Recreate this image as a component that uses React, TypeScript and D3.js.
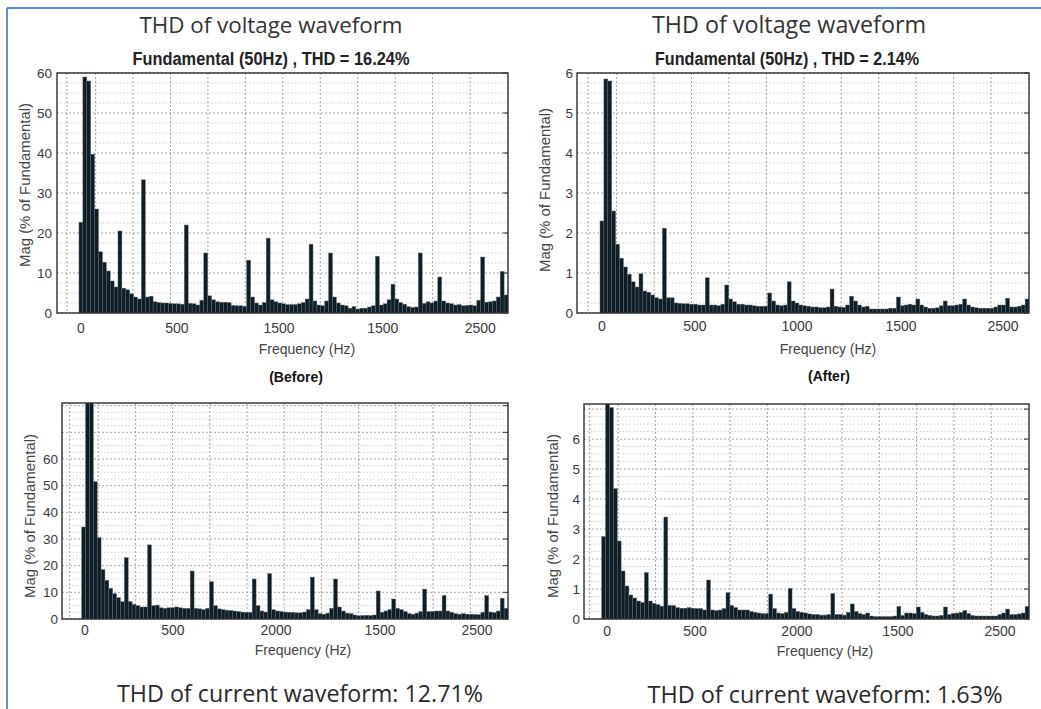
import React from 'react';
import * as d3 from 'd3';

// Frequency bin width (Hz) of the harmonic spectra
const binHz = 25;

// Voltage spectrum before compensation (% of fundamental), one value per 25 Hz bin
const voltageBefore = [
  22.7, 59, 58, 39.7, 26, 15.3, 12.7, 10.5, 8, 6.5,
  20.5, 6.2, 5.8, 4.8, 4, 3.5, 33.3, 4, 4.2, 2.8,
  2.6, 2.5, 2.5, 2.4, 2.3, 2.3, 2.2, 22, 2.4, 2.3,
  2, 3.2, 15, 4.3, 3.3, 2.8, 2.7, 2.7, 2.6, 1.9,
  1.8, 1.8, 1.7, 13.2, 4, 2.5, 2, 2.6, 18.7, 3.3,
  2.8, 2.5, 2.3, 2.1, 2.1, 2.1, 2.3, 2.6, 3.5, 17.2,
  3, 2, 1.8, 3, 15, 4, 2.5, 2, 1.8, 1.2,
  1.6, 1, 1.2, 1.2, 1.5, 1.8, 14.2, 2, 2.3, 3.3,
  7.2, 3.5, 2.6, 2.2, 1.6, 1.4, 1.5, 15, 2.4, 2.8,
  2.5, 3, 9, 3, 2.5, 2.3, 2, 2.1, 1.8, 1.9,
  2, 1.8, 3.2, 14, 2.7, 2.8, 3, 4, 10.4, 4.5,
];

// Voltage spectrum after compensation
const voltageAfter = [
  2.3, 5.85, 5.8, 2.55, 1.72, 1.37, 1.15, 0.97, 0.78, 0.65,
  0.98, 0.55, 0.52, 0.45, 0.38, 0.35, 2.12, 0.38, 0.38, 0.25,
  0.24, 0.23, 0.23, 0.22, 0.22, 0.2, 0.2, 0.88, 0.2, 0.2,
  0.18, 0.22, 0.7, 0.35, 0.28, 0.22, 0.22, 0.2, 0.2, 0.18,
  0.17, 0.17, 0.17, 0.5, 0.3, 0.2, 0.18, 0.2, 0.78, 0.3,
  0.25, 0.2, 0.18, 0.17, 0.15, 0.15, 0.13, 0.13, 0.15, 0.6,
  0.17, 0.15, 0.14, 0.2, 0.42, 0.3, 0.2, 0.15, 0.17, 0.1,
  0.1, 0.1, 0.1, 0.1, 0.12, 0.12, 0.4, 0.18, 0.2, 0.22,
  0.2, 0.35, 0.2, 0.15, 0.12, 0.12, 0.13, 0.18, 0.3, 0.18,
  0.18, 0.2, 0.22, 0.35, 0.2, 0.15, 0.13, 0.12, 0.12, 0.12,
  0.12, 0.15, 0.2, 0.2, 0.37, 0.15, 0.15, 0.17, 0.2, 0.35,
];

// Current spectrum before compensation
const currentBefore = [
  34.5, 85, 84, 51.5, 30.5, 18.5, 14.5, 11.5, 9.5, 8,
  6.5, 23, 6.5, 5.5, 5, 4.5, 4.5, 27.8, 5, 5.2,
  4.2, 4, 4.2, 4.2, 4.5, 4.2, 4, 4, 18, 4,
  3.8, 3.5, 4, 14, 5, 3.8, 3.5, 3.3, 3.2, 3,
  2.8, 2.6, 2.5, 2.5, 15, 5, 3, 2.6, 17, 3.5,
  3, 2.8, 2.6, 2.5, 2.5, 2.3, 2.3, 2.6, 3.5, 15.7,
  3.5, 2, 1.8, 2.2, 4, 15, 4.5, 3, 2.2, 2,
  1.5, 1.2, 1.3, 1.4, 1.3, 1.5, 10.5, 2.5, 3, 3.5,
  7.5, 4, 3.5, 2.8, 2, 1.8, 2.2, 2.8, 11.2, 2.8,
  2.8, 3, 3, 8.8, 3, 2.5, 2, 1.8, 2, 1.8,
  1.8, 1.7, 1.6, 2.5, 8.8, 2.6, 2.4, 3, 7.8, 4,
];

// Current spectrum after compensation
const currentAfter = [
  2.75, 7.5, 7.05, 4.35, 2.6, 1.6, 1.1, 0.8, 0.7, 0.6,
  0.55, 1.55, 0.6, 0.52, 0.48, 0.43, 3.4, 0.45, 0.45, 0.38,
  0.36, 0.36, 0.38, 0.36, 0.35, 0.35, 0.3, 1.3, 0.3, 0.28,
  0.3, 0.35, 0.88, 0.45, 0.38, 0.3, 0.3, 0.3, 0.25, 0.22,
  0.2, 0.18, 0.18, 0.83, 0.35, 0.2, 0.18, 0.22, 1.02, 0.35,
  0.25, 0.22, 0.2, 0.17, 0.15, 0.15, 0.13, 0.13, 0.15, 0.85,
  0.15, 0.15, 0.13, 0.22, 0.5, 0.25, 0.18, 0.15, 0.2, 0.1,
  0.08, 0.08, 0.08, 0.08, 0.08, 0.1, 0.42, 0.12, 0.2, 0.2,
  0.18, 0.4, 0.22, 0.15, 0.12, 0.1, 0.1, 0.12, 0.4, 0.15,
  0.18, 0.2, 0.22, 0.28, 0.18, 0.12, 0.1, 0.1, 0.1, 0.1,
  0.1, 0.1, 0.15, 0.2, 0.33, 0.15, 0.15, 0.17, 0.2, 0.42,
];

// Axis ticks (positions in Hz) and their printed labels
const xTicksVB = [0, 615, 1270, 1935, 2560];
const xLabelsVB = ['0', '500', '1500', '1500', '2500'];
const xTicksVA = [0, 596, 1250, 1917, 2571];
const xLabelsVA = ['0', '500', '1000', '1500', '2500'];
const xTicksCB = [9, 576, 1241, 1912, 2538];
const xLabelsCB = ['0', '500', '2000', '1500', '2500'];
const xTicksCA = [22, 588, 1244, 1894, 2551];
const xLabelsCA = ['0', '500', '2000', '1500', '2500'];

const yTicksVB = [0, 10, 20, 30, 40, 50, 60];
const yLabelsVB = ['0', '10', '20', '30', '40', '50', '60'];
const yTicksVA = [0, 1, 2, 3, 4, 5, 6];
const yLabelsVA = ['0', '1', '2', '3', '4', '5', '6'];
const yTicksCB = [0, 10, 20, 30, 40, 50, 60, 70, 80];
const yLabelsCB = ['0', '10', '20', '30', '40', '50', '60', '', ''];
const yTicksCA = [0, 1, 2, 3, 4, 5, 6, 7];
const yLabelsCA = ['0', '1', '2', '3', '4', '5', '6', ''];

// Vertical grid (Hz)
const xGridHz = [-90, 94, 334, 574, 814, 1054, 1294, 1534, 1774, 2014, 2254, 2494];

const titleTop = 'THD of voltage waveform';
const subVB = 'Fundamental (50Hz) , THD = 16.24%';
const subVA = 'Fundamental (50Hz) , THD = 2.14%';
const captionCB = 'THD of current waveform: 12.71%';
const captionCA = 'THD of current waveform: 1.63%';
const xAxisTitle = 'Frequency (Hz)';
const yAxisTitle = 'Mag (% of Fundamental)';

const SANS = 'Liberation Sans, Arial, sans-serif';
const HUMAN = '"Open Sans", "Noto Sans", sans-serif';

type PanelProps = {
  id: string;
  data: number[];
  left: number; right: number; top: number; bottom: number;
  xDomain: [number, number];
  yMax: number;
  yMinorStep: number;
  yTicks: number[]; yLabels: string[];
  xTicks: number[]; xLabels: string[];
  xTickY: number;
  xTitleY: number; xTitleX: number;
  yTitleX: number; yTitleY: number;
  yLabelRight: number;
};

function Panel(p: PanelProps) {
  const x = d3.scaleLinear().domain(p.xDomain).range([p.left, p.right]);
  const y = d3.scaleLinear().domain([0, p.yMax]).range([p.bottom, p.top]);
  const bw = x(binHz / 2) - x(-binHz / 2);
  const minor = d3.range(0, p.yMax, p.yMinorStep).filter((v) => !p.yTicks.some((t) => Math.abs(t - v) < 1e-6));
  const clipId = `clip-${p.id}`;
  return (
    <g>
      <defs>
        <clipPath id={clipId}>
          <rect x={p.left} y={p.top} width={p.right - p.left} height={p.bottom - p.top} />
        </clipPath>
      </defs>
      <rect x={p.left} y={p.top} width={p.right - p.left} height={p.bottom - p.top} fill="#fff" />
      {minor.map((v, i) => (
        <line key={'mn' + i} x1={p.left} x2={p.right} y1={y(v)} y2={y(v)} stroke="#c4c4c4" strokeWidth={0.8} strokeDasharray="1.5,2" />
      ))}
      {p.yTicks.map((v, i) => (
        <line key={'mj' + i} x1={p.left} x2={p.right} y1={y(v)} y2={y(v)} stroke="#9a9a9a" strokeWidth={0.9} strokeDasharray="2,2" />
      ))}
      {xGridHz.filter((g) => x(g) > p.left + 2 && x(g) < p.right - 2).map((g, i) => (
        <line key={'vg' + i} x1={x(g)} x2={x(g)} y1={p.top} y2={p.bottom} stroke="#9a9a9a" strokeWidth={0.9} strokeDasharray="2,2" />
      ))}
      <g clipPath={`url(#${clipId})`}>
        {p.data.map((v, i) => (
          <rect
            key={'b' + i}
            x={x(i * binHz - binHz / 2)}
            y={y(v)}
            width={bw}
            height={p.bottom - y(v)}
            fill="#0f1d26"
            stroke="#5d6a72"
            strokeWidth={0.45}
          />
        ))}
      </g>
      {p.yTicks.map((v, i) => (
        <line key={'rt' + i} x1={p.right - 5} x2={p.right} y1={y(v)} y2={y(v)} stroke="#333" strokeWidth={1} />
      ))}
      <rect x={p.left} y={p.top} width={p.right - p.left} height={p.bottom - p.top} fill="none" stroke="#2e2e2e" strokeWidth={1.4} />
      {p.yTicks.map((v, i) => (
        <text key={'yl' + i} x={p.yLabelRight} y={y(v)} dy="0.35em" textAnchor="end" fontFamily={SANS} fontSize={13.5} fill="#3a3a3a">
          {p.yLabels[i]}
        </text>
      ))}
      {p.xTicks.map((v, i) => (
        <text key={'xl' + i} x={x(v)} y={p.xTickY} textAnchor="middle" fontFamily={SANS} fontSize={14} fill="#3a3a3a">
          {p.xLabels[i]}
        </text>
      ))}
      <text x={p.xTitleX} y={p.xTitleY} textAnchor="middle" fontFamily={SANS} fontSize={14} fill="#444">
        {xAxisTitle}
      </text>
      <text
        transform={`translate(${p.yTitleX},${p.yTitleY}) rotate(-90)`}
        textAnchor="middle"
        dy="0.35em"
        fontFamily={SANS}
        fontSize={14}
        fill="#444"
        textLength={164}
        lengthAdjust="spacingAndGlyphs"
      >
        {yAxisTitle}
      </text>
    </g>
  );
}

export default function App() {
  return (
    <svg width={1041} height={709} style={{ position: 'absolute', left: 0, top: 0, background: '#fff' }}>
      <rect x={0} y={0} width={1041} height={709} fill="#fff" />
      {/* frame */}
      <line x1={7} x2={1041} y1={8} y2={8} stroke="#5b8ed6" strokeWidth={2} />
      <line x1={7} x2={7} y1={8} y2={709} stroke="#5b8ed6" strokeWidth={2} />

      {/* Titles */}
      <text x={271} y={33} textAnchor="middle" fontFamily={HUMAN} fontSize={21} fill="#333" textLength={263} lengthAdjust="spacingAndGlyphs">{titleTop}</text>
      <text x={789} y={33} textAnchor="middle" fontFamily={HUMAN} fontSize={24} fill="#333" textLength={274} lengthAdjust="spacingAndGlyphs">{titleTop}</text>
      <text x={271} y={65} textAnchor="middle" fontFamily={SANS} fontWeight="bold" fontSize={18} fill="#222" textLength={277} lengthAdjust="spacingAndGlyphs">{subVB}</text>
      <text x={787} y={65} textAnchor="middle" fontFamily={SANS} fontWeight="bold" fontSize={18} fill="#222" textLength={264} lengthAdjust="spacingAndGlyphs">{subVA}</text>

      <Panel
        id="vb" data={voltageBefore}
        left={57} right={508} top={73} bottom={313}
        xDomain={[-153.5, 2737.5]} yMax={60} yMinorStep={2.5}
        yTicks={yTicksVB} yLabels={yLabelsVB}
        xTicks={xTicksVB} xLabels={xLabelsVB}
        xTickY={333} xTitleX={307} xTitleY={354}
        yTitleX={25} yTitleY={185} yLabelRight={52}
      />
      <Panel
        id="va" data={voltageAfter}
        left={577} right={1029} top={73} bottom={313}
        xDomain={[-160, 2737.5]} yMax={6} yMinorStep={0.25}
        yTicks={yTicksVA} yLabels={yLabelsVA}
        xTicks={xTicksVA} xLabels={xLabelsVA}
        xTickY={331} xTitleX={828} xTitleY={354}
        yTitleX={545} yTitleY={190} yLabelRight={573}
      />
      <text x={296} y={382} textAnchor="middle" fontFamily={SANS} fontWeight="bold" fontSize={14} fill="#111">(Before)</text>
      <text x={829} y={381} textAnchor="middle" fontFamily={SANS} fontWeight="bold" fontSize={14} fill="#111">(After)</text>

      <Panel
        id="cb" data={currentBefore}
        left={62} right={508} top={403} bottom={619}
        xDomain={[-139.5, 2737.5]} yMax={81} yMinorStep={2.5}
        yTicks={yTicksCB} yLabels={yLabelsCB}
        xTicks={xTicksCB} xLabels={xLabelsCB}
        xTickY={635} xTitleX={303} xTitleY={655}
        yTitleX={30} yTitleY={516} yLabelRight={58}
      />
      <Panel
        id="ca" data={currentAfter}
        left={584} right={1029} top={404} bottom={619}
        xDomain={[-126.4, 2737.5]} yMax={7.17} yMinorStep={0.25}
        yTicks={yTicksCA} yLabels={yLabelsCA}
        xTicks={xTicksCA} xLabels={xLabelsCA}
        xTickY={636} xTitleX={825} xTitleY={656}
        yTitleX={553} yTitleY={516} yLabelRight={580}
      />

      <text x={300} y={702} textAnchor="middle" fontFamily={HUMAN} fontSize={24} fill="#2a2a2a" textLength={366} lengthAdjust="spacingAndGlyphs">{captionCB}</text>
      <text x={825} y={703} textAnchor="middle" fontFamily={HUMAN} fontSize={24} fill="#2a2a2a" textLength={355} lengthAdjust="spacingAndGlyphs">{captionCA}</text>
    </svg>
  );
}
